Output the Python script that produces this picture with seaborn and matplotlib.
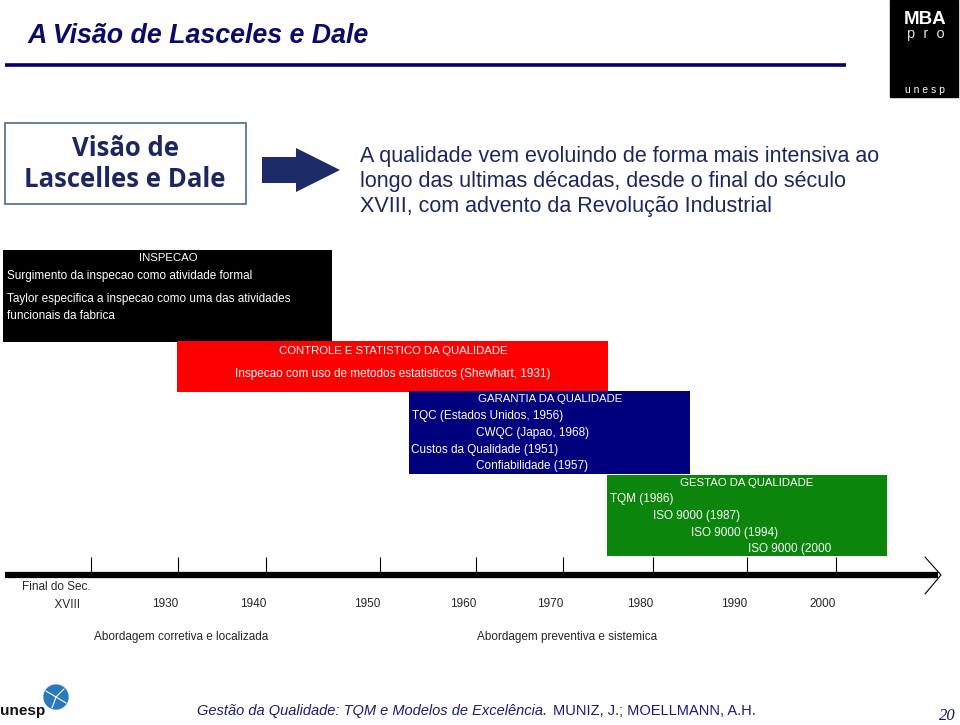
import matplotlib
matplotlib.use("Agg")
import matplotlib.pyplot as plt
import seaborn as sns

# data: the four eras of quality and their notes
phases = ["INSPECAO", "CONTROLE E STATISTICO DA QUALIDADE",
          "GARANTIA DA QUALIDADE", "GESTAO DA QUALIDADE"]
phase_colors = ["#000000", "#ff0000", "#00007e", "#0b850b"]
phase_notes = [
    ["Surgimento da inspecao como atividade formal",
     "Taylor especifica a inspecao como uma das atividades",
     "funcionais da fabrica"],
    ["Inspecao com uso de metodos estatisticos (Shewhart, 1931)"],
    ["TQC (Estados Unidos, 1956)", "CWQC (Japao, 1968)",
     "Custos da Qualidade (1951)", "Confiabilidade (1957)"],
    ["TQM (1986)", "ISO 9000 (1987)", "ISO 9000 (1994)", "ISO 9000 (2000"],
]
tick_labels = ["Final do Sec.\n          XVIII", "1930", "1940", "1950", "1960",
               "1970", "1980", "1990", "2000"]
approaches = ["Abordagem corretiva e localizada", "Abordagem preventiva e sistemica"]

# layout (pixels of the slide)
box_x0 = [3, 177, 409, 607]
box_x1 = [332, 608, 690, 887]
box_y0 = [250, 341, 391, 475]
box_y1 = [342, 392, 474, 556]
title_x = [168, 393, 550, 747]
title_y = [258, 351, 399, 483]
note_x = [[7, 7, 7], [393], [412, 476, 411, 476], [610, 653, 691, 748]]
note_y = [[276, 299, 316], [374], [416, 433, 450, 466], [499, 516, 533, 549]]
tick_x = [91, 178, 266, 380, 476, 563, 653, 747, 836]

sns.set_theme(style="white")
plt.rcParams["font.family"] = ["Liberation Sans", "DejaVu Sans"]

fig = plt.figure(figsize=(9.6, 7.25), dpi=100)
ax = fig.add_axes([0, 0, 1, 1])
ax.set_xlim(0, 960)
ax.set_ylim(725, 0)
ax.axis("off")

navy = "#0a0a6a"
text_navy = "#1c2660"
box_fs = 8.5

# header
ax.text(28, 36, "A Visão de Lasceles e Dale", fontsize=19.3, fontweight="bold",
        fontstyle="italic", color=navy, va="center")
ax.plot([5, 846], [65, 65], color="#000070", lw=2.6, solid_capstyle="butt")

# MBA pro logo
ax.add_patch(plt.Rectangle((890, 0), 68, 97, color="black"))
ax.text(925, 24, "MBA", color="white", fontsize=13.5, fontweight="bold",
        ha="center", va="baseline")
ax.text(926, 38, "p  r  o", color="#dddddd", fontsize=10.5, ha="center", va="baseline")
ax.text(925, 90, "u n e s p", color="white", fontsize=7.5, ha="center", va="center")

# intro box + arrow + sentence
ax.add_patch(plt.Rectangle((5, 123), 241, 81, fill=False, ec="#4d6890", lw=1.2))
ax.text(125, 164, "Visão de\nLascelles e Dale", fontsize=18.5, fontweight="bold",
        color=text_navy, ha="center", va="center", linespacing=1.2, family="Open Sans")
ax.fill([262, 296, 296, 340, 296, 296, 262], [157, 157, 148, 170, 192, 183, 183],
        color="#1c2a68", lw=0)
ax.text(360, 181, "A qualidade vem evoluindo de forma mais intensiva ao\n"
        "longo das ultimas décadas, desde o final do século\n"
        "XVIII, com advento da Revolução Industrial",
        fontsize=15.5, color=text_navy, va="center", linespacing=1.25)

# phase boxes
for i, name in enumerate(phases):
    ax.barh((box_y0[i] + box_y1[i]) / 2, box_x1[i] - box_x0[i], left=box_x0[i],
            height=box_y1[i] - box_y0[i], color=phase_colors[i], lw=0)
    ax.text(title_x[i], title_y[i], name, color="white", fontsize=box_fs - 0.3,
            ha="center", va="center")
    for j, note in enumerate(phase_notes[i]):
        ha = "center" if i == 1 else "left"
        ax.text(note_x[i][j], note_y[i][j], note, color="white", fontsize=box_fs,
                ha=ha, va="center")

# timeline
ax.plot([5, 938], [575, 575], color="black", lw=4.5, solid_capstyle="butt")
ax.plot([925, 941, 925], [557, 575, 594], color="black", lw=0.8)
ax.vlines(tick_x, 557, 575, color="black", lw=0.8)
for x, lab in zip(tick_x, tick_labels):
    if "\n" in lab:
        ax.text(22, 596, lab, fontsize=box_fs, va="center", ha="left", linespacing=1.6)
    else:
        ax.text(x - 13, 604, lab, fontsize=box_fs, va="center", ha="center")
ax.text(181, 637, approaches[0], fontsize=box_fs, ha="center", va="center")
ax.text(567, 637, approaches[1], fontsize=box_fs, ha="center", va="center")

# footer
ax.text(0, 711, "unesp", fontsize=11, fontweight="bold", va="center", color="#111111")
ax.add_patch(plt.Circle((56, 697), 12, color="#2a78c0"))
for dx, dy in [(-10, -6), (8, -8), (10, 6), (-4, 11)]:
    ax.plot([56, 56 + dx], [697, 697 + dy], color="white", lw=0.8)
ax.text(197, 711, "Gestão da Qualidade: TQM e Modelos de Excelência.", fontsize=10.5,
        fontstyle="italic", color="#1a1a80", va="center")
ax.text(553, 711, "MUNIZ, J.; MOELLMANN, A.H.", fontsize=10.5,
        color="#1a1a80", va="center")
ax.text(947, 716, "20", fontsize=12, fontstyle="italic", color="#1a1a50",
        va="center", ha="center", family="Liberation Serif")

fig.savefig("out.png", dpi=100)
